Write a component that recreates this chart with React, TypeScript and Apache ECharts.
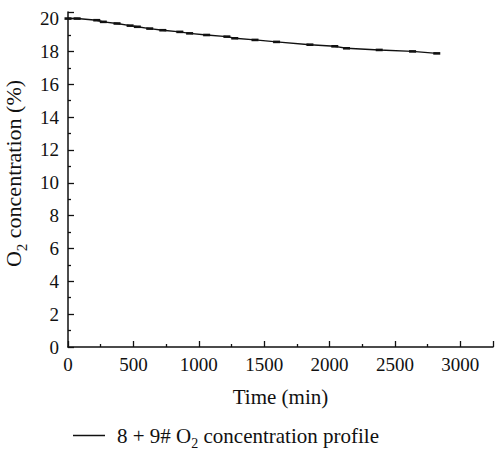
import React, { useEffect, useRef } from "react";
import * as echarts from "echarts";

const times = [0, 70, 220, 270, 375, 475, 530, 625, 725, 855, 930, 1060, 1215, 1275, 1430, 1595, 1850, 2040, 2130, 2380, 2635, 2820];
const o2 = [20.0, 20.0, 19.9, 19.8, 19.7, 19.57, 19.5, 19.39, 19.29, 19.19, 19.1, 19.0, 18.9, 18.8, 18.7, 18.58, 18.41, 18.31, 18.19, 18.09, 18.0, 17.88];
const seriesName = "8 + 9# O2 concentration profile";
const xName = "Time (min)";

const FONT = "Liberation Serif";

export default function App() {
  const ref = useRef<HTMLDivElement>(null);
  useEffect(() => {
    const chart = echarts.init(ref.current!, null, { renderer: "svg" });
    const data = times.map((t, i) => [t, o2[i]]);
    const rich = {
      n: { fontFamily: FONT, fontSize: 21, color: "#111" },
      s: { fontFamily: FONT, fontSize: 14, color: "#111", padding: [16, 0, 0, 0] },
    };
    const yRich = {
      n: { fontFamily: FONT, fontSize: 22, color: "#111" },
      s: { fontFamily: FONT, fontSize: 15, color: "#111", padding: [16, 0, 0, 0] },
      g: { width: 12 },
    };
    chart.setOption({
      animation: false,
      textStyle: { fontFamily: FONT, color: "#111" },
      grid: { left: 68, right: 2, top: 12, bottom: 106, containLabel: false, outerBoundsMode: "none" },
      legend: {
        show: true,
        left: 68,
        top: 420,
        itemWidth: 32,
        itemHeight: 1.5,
        itemGap: 16,
        icon: "path://M0,0L32,0L32,1.5L0,1.5Z",
        data: [seriesName],
        formatter: () => "{n|8 + 9# O}{s|2}{n| concentration profile}",
        textStyle: { fontFamily: FONT, color: "#111", rich, padding: [0, 0, 0, 7] },
      },
      xAxis: {
        type: "value",
        min: 0,
        max: 3250,
        interval: 500,
        name: xName,
        nameLocation: "middle",
        nameGap: 39,
        nameTextStyle: { fontFamily: FONT, fontSize: 21, color: "#111" },
        axisLine: { show: true, lineStyle: { color: "#111", width: 1.5 } },
        axisTick: { show: true, inside: true, length: 6, lineStyle: { color: "#111", width: 1.3 } },
        minorTick: { show: true, splitNumber: 2, length: 3, lineStyle: { color: "#111", width: 1.3 } },
        axisLabel: {
          fontFamily: FONT,
          fontSize: 19,
          color: "#111",
          margin: 8,
          showMaxLabel: false,
          formatter: (v: number) => String(v),
        },
        splitLine: { show: false },
      },
      yAxis: {
        type: "value",
        min: 0,
        max: 20.4,
        interval: 2,
        name: "{g|}{n|O}{s|2}{n| concentration (%)}",
        nameLocation: "middle",
        nameGap: 34,
        nameRotate: 90,
        nameTextStyle: { fontFamily: FONT, color: "#111", rich: yRich },
        axisLine: { show: true, lineStyle: { color: "#111", width: 1.5 } },
        axisTick: { show: true, inside: true, length: 6, lineStyle: { color: "#111", width: 1.3 } },
        minorTick: { show: true, splitNumber: 2, length: 3, lineStyle: { color: "#111", width: 1.3 } },
        axisLabel: {
          fontFamily: FONT,
          fontSize: 19,
          color: "#111",
          margin: 9,
          showMaxLabel: false,
          formatter: (v: number) => String(v),
        },
        splitLine: { show: false },
      },
      series: [
        {
          name: seriesName,
          type: "line",
          data,
          showSymbol: true,
          symbol: "rect",
          symbolSize: [7, 2.6],
          itemStyle: { color: "#111" },
          lineStyle: { color: "#111", width: 1.4 },
        },
      ],
    });
    return () => chart.dispose();
  }, []);
  return <div ref={ref} style={{ position: "absolute", left: 0, top: 0, width: 495, height: 453 }} />;
}
